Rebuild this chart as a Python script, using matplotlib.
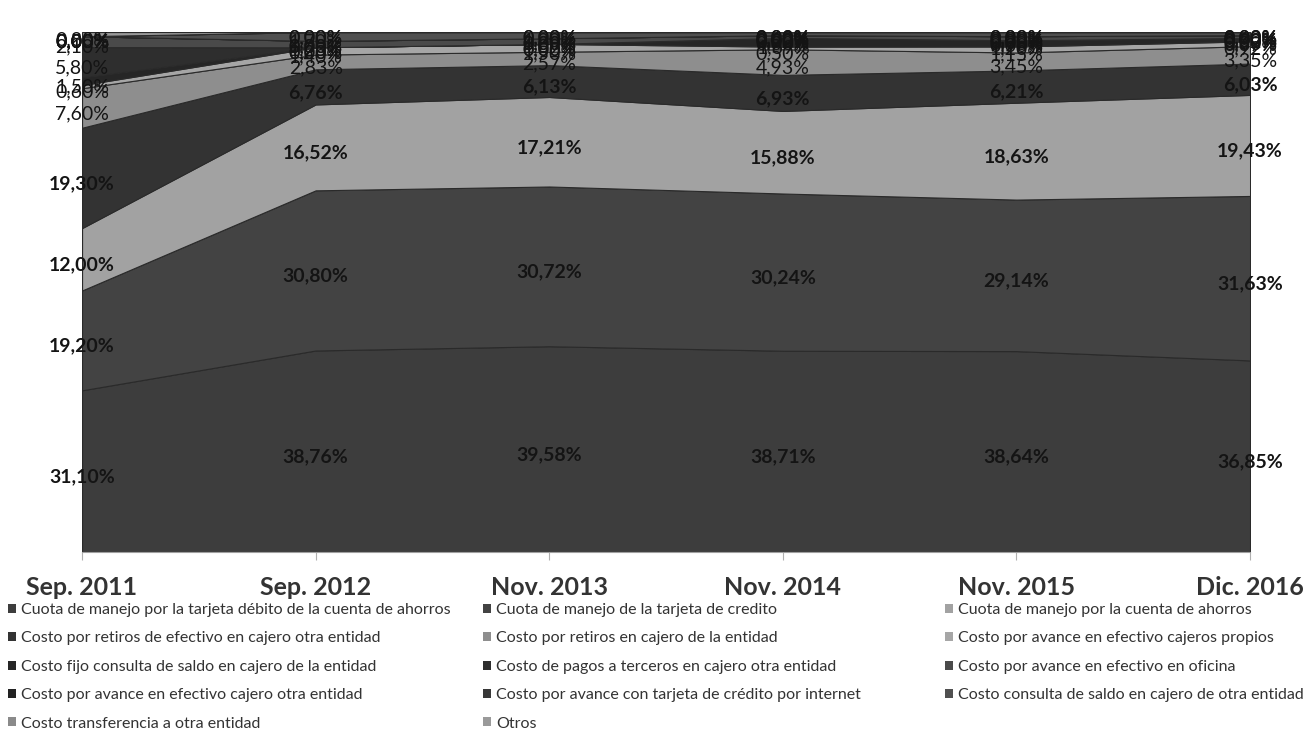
import numpy as np
import matplotlib
matplotlib.use("Agg")
import matplotlib.pyplot as plt
from matplotlib.patches import Patch

plt.rcParams['font.family'] = ['Lato', 'DejaVu Sans']

# periodos (eje x)
periodos = ["Sep. 2011", "Sep. 2012", "Nov. 2013", "Nov. 2014", "Nov. 2015", "Dic. 2016"]

# participación de cada costo (%), de abajo hacia arriba
debito_ahorros = [31.10, 38.76, 39.58, 38.71, 38.64, 36.85]
tarjeta_credito = [19.20, 30.80, 30.72, 30.24, 29.14, 31.63]
cuenta_ahorros = [12.00, 16.52, 17.21, 15.88, 18.63, 19.43]
retiros_otra = [19.30, 6.76, 6.13, 6.93, 6.21, 6.03]
retiros_entidad = [7.60, 2.83, 2.57, 4.93, 3.45, 3.35]
avance_propios = [0.60, 1.40, 1.50, 0.50, 1.15, 0.92]
consulta_fijo = [1.50, 0.00, 0.00, 1.69, 1.20, 0.67]
pagos_terceros = [5.80, 0.00, 0.00, 0.00, 0.00, 0.00]
avance_oficina = [2.10, 1.23, 1.09, 0.52, 0.78, 0.52]
avance_otra = [0.00, 0.00, 0.00, 0.00, 0.00, 0.00]
avance_internet = [0.00, 0.00, 0.00, 0.00, 0.00, 0.00]
consulta_otra = [0.00, 1.70, 1.20, 0.60, 0.80, 0.60]
transferencia = [0.00, 0.00, 0.00, 0.00, 0.00, 0.00]
otros = [0.80, 0.00, 0.00, 0.00, 0.00, 0.00]

nombres = [
    "Cuota de manejo por la tarjeta débito de la cuenta de ahorros",
    "Cuota de manejo de la tarjeta de credito",
    "Cuota de manejo por la cuenta de ahorros",
    "Costo por retiros de efectivo en cajero otra entidad",
    "Costo por retiros en cajero de la entidad",
    "Costo por avance en efectivo cajeros propios",
    "Costo fijo consulta de saldo en cajero de la entidad",
    "Costo de pagos a terceros en cajero otra entidad",
    "Costo por avance en efectivo en oficina",
    "Costo por avance en efectivo cajero otra entidad",
    "Costo por avance con tarjeta de crédito por internet",
    "Costo consulta de saldo en cajero de otra entidad",
    "Costo transferencia a otra entidad",
    "Otros",
]

valores = [debito_ahorros, tarjeta_credito, cuenta_ahorros, retiros_otra,
           retiros_entidad, avance_propios, consulta_fijo, pagos_terceros,
           avance_oficina, avance_otra, avance_internet, consulta_otra,
           transferencia, otros]

colores = ["#3d3d3d", "#434343", "#a2a2a2", "#333333", "#8e8e8e", "#a6a6a6",
           "#262626", "#2e2e2e", "#4a4a4a", "#222222", "#383838", "#505050",
           "#8a8a8a", "#9a9a9a"]

fig = plt.figure(figsize=(13.15, 7.56), dpi=100)
ax = fig.add_axes([0.0624, 0.2698, 0.8882, 0.6878])

x = np.arange(len(periodos))
ax.stackplot(x, *valores, colors=colores, edgecolor="#2a2a2a", linewidth=0.8)

# etiquetas de datos en el centro de cada banda
acum = np.cumsum(np.array(valores), axis=0)
for i, vals in enumerate(valores):
    for j, v in enumerate(vals):
        y = acum[i][j] - v / 2
        texto = f"{v:.2f}%".replace(".", ",")
        ax.annotate(texto, (x[j], y), xytext=(0, -4), textcoords="offset points",
                    ha="center", va="center", fontsize=14,
                    fontweight="bold" if i < 4 else "normal",
                    color="#141414", annotation_clip=False)

ax.set_xlim(0, 5)
ax.set_ylim(0, 100)
ax.set_yticks([])
for lado in ["top", "right", "left"]:
    ax.spines[lado].set_visible(False)
ax.spines["bottom"].set_color("#a0a0a0")
ax.set_xticks(x)
ax.set_xticklabels(periodos, fontsize=18, fontweight="bold", color="#333333")
ax.tick_params(axis="x", length=6, pad=11, color="#b0b0b0")

# leyenda en tres columnas, orden por filas como en el original
handles = [Patch(facecolor=c, edgecolor="none") for c in colores]
columnas_x = [8, 483, 945]
for k, cx in enumerate(columnas_x):
    idx = list(range(k, len(nombres), 3))
    leg = fig.legend([handles[i] for i in idx], [nombres[i] for i in idx],
                     loc="upper left", bbox_to_anchor=(cx / 1315, 1 - 603 / 756),
                     frameon=False, fontsize=11.5, handlelength=0.5, handleheight=0.5,
                     handletextpad=0.3, labelspacing=0.9, borderpad=0,
                     borderaxespad=0)
    for t in leg.get_texts():
        t.set_color("#333333")

fig.savefig("out.png", dpi=100)
